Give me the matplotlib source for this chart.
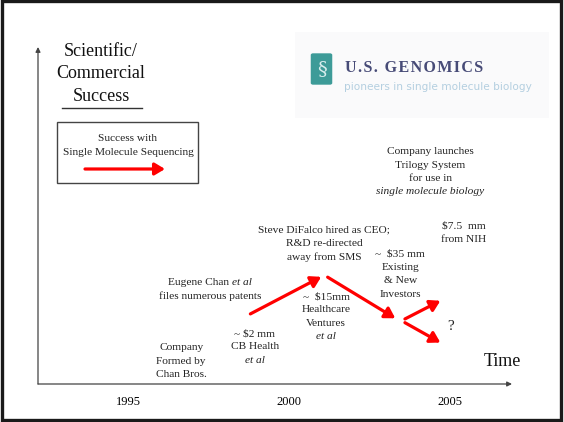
import matplotlib
matplotlib.use("Agg")
import matplotlib.pyplot as plt
from matplotlib.patches import Rectangle, FancyBboxPatch
from matplotlib.lines import Line2D
from matplotlib.offsetbox import TextArea, HPacker, VPacker, AnnotationBbox

plt.rcParams['font.family'] = ['Liberation Serif', 'DejaVu Serif']

W, H = 564, 422

# success path (year, success level 0-100)
arrow_from_year = [1998.8, 2001.2, 2003.6, 2003.6]
arrow_from_level = [20.8, 31.7, 19.3, 18.2]
arrow_to_year = [2001.0, 2003.3, 2004.7, 2004.7]
arrow_to_level = [31.8, 19.5, 24.7, 12.3]

# milestones along the timeline (*...* = italic)
event_years = [1996.65, 1998.94, 1997.55, 2001.09, 2001.15, 2003.46, 2005.42, 2004.38]
event_levels = [6.8, 11.0, 28.1, 41.7, 20.0, 32.6, 45.0, 63.0]
event_labels = [
    "Company\nFormed by\nChan Bros.",
    "~ $2 mm\nCB Health\n*et al*",
    "Eugene Chan *et al*\nfiles numerous patents",
    "Steve DiFalco hired as CEO;\nR&D re-directed\naway from SMS",
    "~  $15mm\nHealthcare\nVentures\n*et al*",
    "~  $35 mm\nExisting\n& New\nInvestors",
    "$7.5  mm\nfrom NIH",
    "Company launches\nTrilogy System\nfor use in\n*single molecule biology*",
]
year_ticks = [1995, 2000, 2005]


def fx(px):
    return px / W


def fy(py):
    return 1 - py / H


def rich_label(s, size=8.2):
    rows = []
    for line in s.split("\n"):
        parts = [p for p in line.split("*")]
        boxes = []
        for i, p in enumerate(parts):
            p = p.strip()
            if not p:
                continue
            style = 'italic' if i % 2 == 1 else 'normal'
            boxes.append(TextArea(p, textprops=dict(fontsize=size, style=style, color='#222222')))
        rows.append(HPacker(children=boxes, align='baseline', pad=0, sep=2.0))
    return VPacker(children=rows, align='center', pad=0, sep=3.1)


fig = plt.figure(figsize=(5.64, 4.22), dpi=100)

# slide frame
fig.patches.append(Rectangle((fx(1.5), fy(420.3)), fx(561) - fx(1.5), fy(1) - fy(420.3),
                             transform=fig.transFigure, fill=False, ec='#1a1a1a', lw=2.4))

# logo background
fig.patches.append(Rectangle((fx(295), fy(118)), fx(549) - fx(295), fy(32) - fy(118),
                             transform=fig.transFigure, fc='#fafafb', ec='none', zorder=0))

ax = fig.add_axes([fx(38), fy(384), fx(512) - fx(38), fy(47) - fy(384)])
ax.set_facecolor('none')
ax.set_xlim(1992.205, 2006.925)
ax.set_ylim(0, 100)
for s in ax.spines.values():
    s.set_visible(False)
ax.set_xticks(year_ticks)
ax.set_xticklabels([str(y) for y in year_ticks])
ax.set_yticks([])
ax.tick_params(axis='x', length=0, pad=8.5, labelsize=9)

# axes with arrow heads
ax.annotate('', xy=(0, 1), xytext=(0, 0), xycoords='axes fraction',
            arrowprops=dict(arrowstyle='-|>', color='#444444', lw=0.9,
                            mutation_scale=7, shrinkA=0, shrinkB=0))
ax.annotate('', xy=(1, 0), xytext=(0, 0), xycoords='axes fraction',
            arrowprops=dict(arrowstyle='-|>', color='#444444', lw=0.9,
                            mutation_scale=7, shrinkA=0, shrinkB=0))

red_arrow = dict(arrowstyle='-|>,head_length=0.5,head_width=0.3', color='red',
                 lw=2.3, mutation_scale=12, shrinkA=0, shrinkB=0)
for x0, y0, x1, y1 in zip(arrow_from_year, arrow_from_level, arrow_to_year, arrow_to_level):
    ax.annotate('', xy=(x1, y1), xytext=(x0, y0), arrowprops=red_arrow)

for x, y, t in zip(event_years, event_levels, event_labels):
    ab = AnnotationBbox(rich_label(t), (x, y), xycoords='data', frameon=False,
                        box_alignment=(0.5, 0.5), pad=0)
    ax.add_artist(ab)

ax.text(2005.03, 17.2, "?", ha='center', va='center', fontsize=11, color='#222222')
ax.text(2006.64, 6.6, "Time", ha='center', va='center', fontsize=13, color='#111111')

# y label
for yy, t in zip([51.7, 74, 96.7], ["Scientific/", "Commercial", "Success"]):
    fig.text(fx(101), fy(yy), t, ha='center', va='center', fontsize=13, color='#111111')
fig.lines.append(Line2D([fx(61.7), fx(141.7)], [fy(108), fy(108)], transform=fig.transFigure,
                        color='#333333', lw=1))

# legend box
fig.patches.append(Rectangle((fx(56.7), fy(183.3)), fx(198.3) - fx(56.7), fy(122.3) - fy(183.3),
                             transform=fig.transFigure, fill=False, ec='#444444', lw=1))
fig.text(fx(128), fy(138.3), "Success with", ha='center', va='center', fontsize=8.2, color='#222222')
fig.text(fx(128), fy(152.7), "Single Molecule Sequencing", ha='center', va='center',
         fontsize=8.2, color='#222222')
ax.annotate('', xy=(fx(165), fy(169)), xytext=(fx(85), fy(169)), xycoords='figure fraction',
            arrowprops=red_arrow)

# logo
fig.patches.append(FancyBboxPatch((fx(313), fy(83)), fx(330) - fx(313), fy(55) - fy(83),
                                  boxstyle='round,pad=0.004', transform=fig.transFigure,
                                  fc='#3d9b98', ec='none'))
fig.text(fx(321.5), fy(69), "§", ha='center', va='center', fontsize=14, color='#d8eeee',
         family='DejaVu Serif')
fig.text(fx(345), fy(68.5), "\u200a".join("U.S. GENOMICS"), ha='left', va='center',
         fontsize=11.5, weight='bold', color='#474b77')
fig.text(fx(344), fy(86.7), "pioneers in single molecule biology", ha='left', va='center',
         fontsize=7.6, color='#b4cfe0', family='DejaVu Sans')

fig.savefig("out.png", dpi=100)
